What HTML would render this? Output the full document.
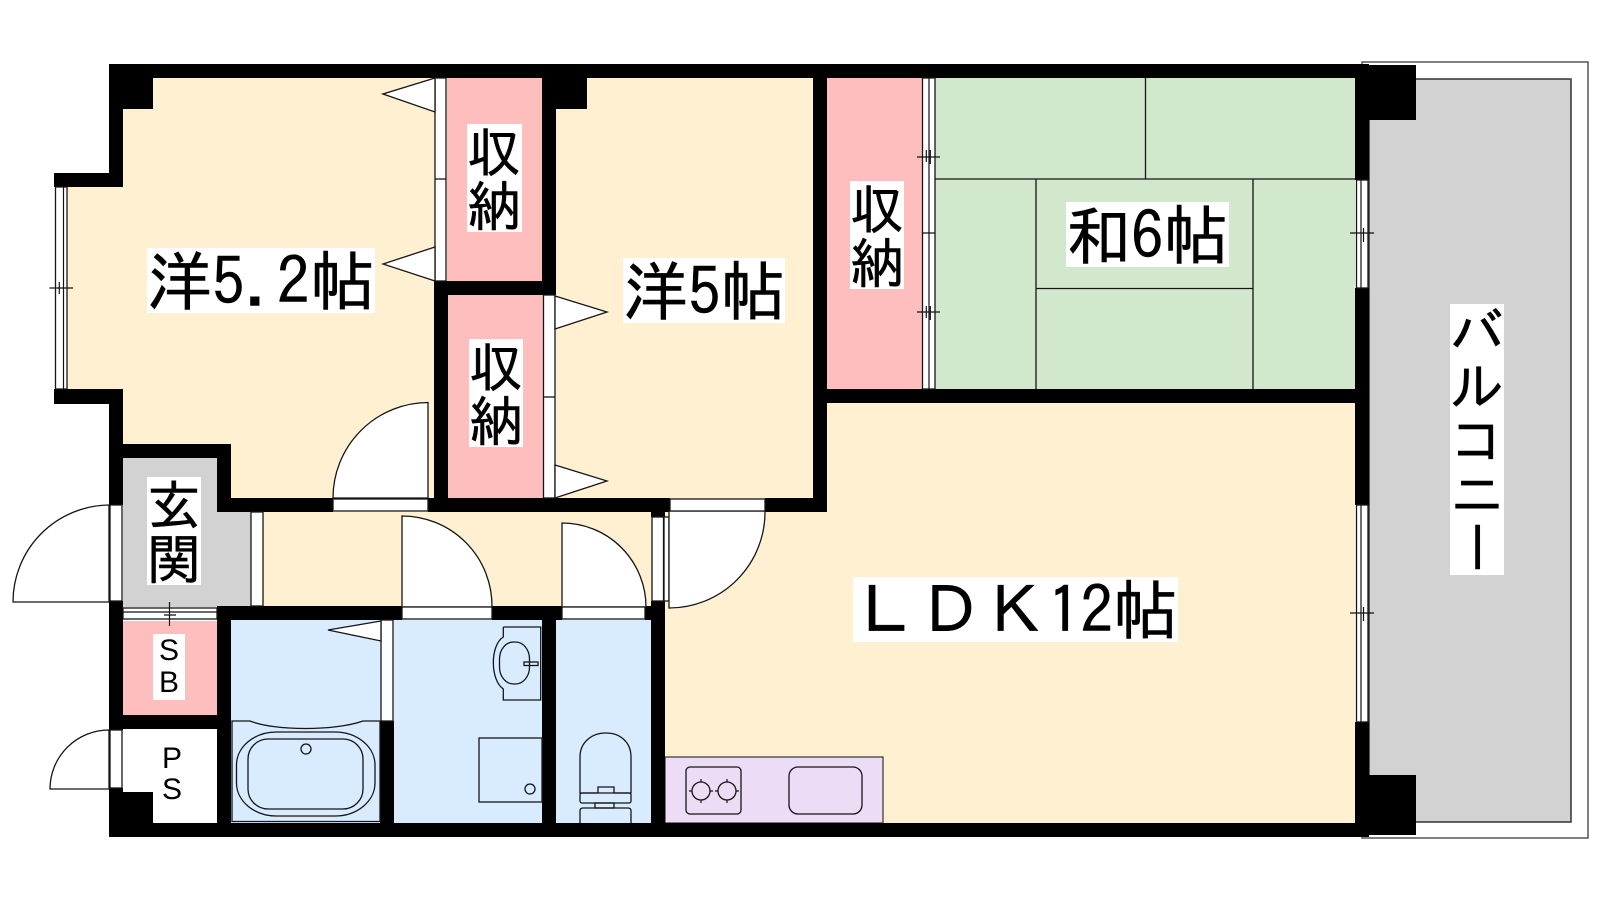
<!DOCTYPE html>
<html lang="ja">
<head>
<meta charset="utf-8">
<title>間取り図</title>
<style>
html,body{margin:0;padding:0;background:#fff;width:1600px;height:900px;overflow:hidden}
svg{display:block}
text{font-family:"IPAGothic","Noto Sans CJK JP",sans-serif;fill:#000;stroke:#000;stroke-width:.5}
.lat{font-family:"Liberation Sans",sans-serif;stroke:none}
.l{fill:none;stroke:#151515;stroke-width:1.3}
.f{fill:#fff;stroke:#151515;stroke-width:1.3}
.w{fill:#000}
.t{stroke:#111;stroke-width:1.2;fill:none}
</style>
</head>
<body>
<svg width="1600" height="900" viewBox="0 0 1600 900" xmlns="http://www.w3.org/2000/svg">
<!-- balcony -->
<rect x="1362" y="62" width="226" height="776" fill="#fff" stroke="#555" stroke-width="1.5"/>
<rect x="1369" y="79" width="202" height="743" fill="#d2d2d2" stroke="#333" stroke-width="1.5"/>

<!-- floors -->
<polygon points="123,78 435,78 435,498 231,498 231,444 123,444 123,404 60,404 60,187 123,187" fill="#fef0d0"/>
<rect x="556" y="78" width="260" height="422" fill="#fef0d0"/>
<rect x="447" y="78" width="95" height="204" fill="#ffbebe"/>
<rect x="448" y="295" width="95" height="204" fill="#ffbebe"/>
<rect x="827" y="78" width="95" height="311" fill="#ffbebe"/>
<rect x="935" y="78" width="420" height="311" fill="#d2e8cc"/>
<rect x="665" y="403" width="690" height="420" fill="#fef0d0"/>
<rect x="263" y="512" width="390" height="95" fill="#fef0d0"/>
<rect x="665" y="512" width="160" height="311" fill="#fef0d0"/>
<polygon points="123,458 217,458 217,512 251,512 251,607 123,607" fill="#d2d2d2"/>
<rect x="123" y="621" width="94" height="94" fill="#ffbebe"/>
<rect x="123" y="729" width="94" height="94" fill="#fff"/>
<rect x="231" y="620" width="150" height="203" fill="#d9ebff"/>
<rect x="394" y="620" width="148" height="203" fill="#d9ebff"/>
<rect x="556" y="620" width="95" height="203" fill="#d9ebff"/>

<!-- tatami lines -->
<path class="l" d="M935 179H1355M1145.500 78V179M1036 179V389M1253 179V389M1036 288.500H1253"/>

<!-- kitchen -->
<rect x="665" y="757" width="218" height="66" fill="#ecdcf5" stroke="#333" stroke-width="1.2"/>
<rect class="l" x="686" y="767" width="55" height="47" rx="4"/>
<circle class="l" cx="701" cy="791" r="9"/>
<circle class="l" cx="727" cy="791" r="9"/>
<path class="t" d="M689 791h3M710 791h3M701 779v3M701 800v3M715 791h3M736 791h3M727 779v3M727 800v3"/>
<rect class="l" x="789" y="767" width="73" height="47" rx="9"/>

<!-- walls -->
<g class="w">
<rect x="109" y="64" width="1260" height="14"/>
<rect x="109" y="64" width="44" height="45"/>
<rect x="109" y="64" width="14" height="123"/>
<rect x="54" y="173" width="69" height="14"/>
<rect x="54" y="389" width="69" height="15"/>
<rect x="109" y="389" width="14" height="69"/>
<rect x="109" y="444" width="122" height="14"/>
<rect x="109" y="444" width="14" height="61"/>
<rect x="217" y="444" width="14" height="68"/>
<rect x="217" y="498" width="116" height="14"/>
<rect x="428" y="498" width="242" height="14"/>
<rect x="765" y="498" width="62" height="14"/>
<rect x="434" y="281" width="122" height="14"/>
<rect x="434" y="281" width="14" height="231"/>
<rect x="542" y="64" width="14" height="231"/>
<rect x="542" y="64" width="45" height="45"/>
<rect x="813" y="64" width="14" height="448"/>
<rect x="813" y="389" width="556" height="14"/>
<rect x="1355" y="64" width="14" height="116"/>
<rect x="1355" y="288" width="14" height="217"/>
<rect x="1355" y="722" width="14" height="115"/>
<rect x="1355" y="65" width="61" height="55"/>
<rect x="1355" y="775" width="61" height="60"/>
<rect x="109" y="823" width="1260" height="14"/>
<rect x="109" y="601" width="14" height="129"/>
<rect x="109" y="788" width="14" height="49"/>
<rect x="109" y="792" width="44" height="45"/>
<rect x="123" y="715" width="94" height="14"/>
<rect x="217" y="606" width="14" height="231"/>
<rect x="217" y="606" width="185" height="14"/>
<rect x="492" y="606" width="70" height="14"/>
<rect x="645" y="606" width="20" height="14"/>
<rect x="380" y="721" width="14" height="116"/>
<rect x="542" y="606" width="14" height="231"/>
<rect x="651" y="601" width="14" height="236"/>
<rect x="651" y="498" width="14" height="19"/>
</g>

<!-- windows -->
<rect class="f" x="55.500" y="187" width="11.500" height="202"/>
<path class="t" d="M63.500 187V389M49.500 288H73M59.300 282V294M63.500 282V296"/>
<rect class="f" x="1356.500" y="180" width="11.500" height="108"/>
<path class="t" d="M1361 180V288M1350 233H1374M1361 228V240M1363.500 228V242"/>
<rect class="f" x="1356.500" y="505" width="11.500" height="217"/>
<path class="t" d="M1361 505V722M1350 613H1374M1361 607V619M1363.500 607V621"/>
<rect class="f" x="922.500" y="78" width="12.500" height="311"/>
<path class="t" d="M929 78V389M917 157H940M926.300 150V162M930.300 150V164M922 233H935M917 312H940M926.300 306V318M930.300 306V320"/>
<rect class="f" x="123" y="608" width="94" height="11"/>
<path class="t" d="M123 612H217M169.500 602V626M164 612H176M164 615H176"/>

<!-- sliding closet doors -->
<rect class="f" x="435" y="78" width="11" height="203"/>
<path class="l" d="M435 179H446"/>
<rect class="f" x="543.500" y="295" width="11.500" height="203"/>
<path class="l" d="M543.500 397H555"/>
<polygon class="f" points="435,78 383,94 435,112"/>
<polygon class="f" points="435,247 383,264 435,281"/>
<polygon class="f" points="555,296 607,312 555,329"/>
<polygon class="f" points="555,465 607,481 555,498"/>

<!-- interior partitions -->
<rect class="f" x="251" y="512" width="12" height="94"/>
<rect class="f" x="652" y="517" width="11.500" height="84"/>
<rect class="f" x="664" y="517" width="5" height="84"/>
<rect class="f" x="381" y="620" width="12" height="101"/>
<polygon class="f" points="381,621 328,630 381,641"/>

<!-- door swings -->
<path class="f" d="M428 498V402.500A95.500 95.500 0 0 0 333 498Z"/>
<rect class="f" x="333" y="499" width="95" height="12"/>
<path class="f" d="M109 602V505A97 97 0 0 0 13 602Z"/>
<rect class="f" x="110" y="505" width="12" height="96"/>
<path class="f" d="M109 789V730A59 59 0 0 0 50 789Z"/>
<rect class="f" x="110" y="730" width="12" height="58"/>
<path class="f" d="M402 607V516A90 90 0 0 1 492 607Z"/>
<rect class="f" x="402" y="607" width="90" height="12"/>
<path class="f" d="M562 607V523A84 84 0 0 1 646 607Z"/>
<rect class="f" x="562" y="607" width="83" height="12"/>
<path class="f" d="M669 511V608A96 96 0 0 0 765 511Z"/>
<rect class="f" x="670" y="499" width="95" height="12"/>

<!-- bath -->
<path class="l" d="M232 721H250C275 731 335 731 363 721H380V821.500H232Z"/>
<rect class="l" x="236.500" y="732" width="138.500" height="84" rx="40" ry="33"/>
<rect class="l" x="248" y="739" width="115" height="70" rx="20" ry="20"/>
<circle class="l" cx="306" cy="749" r="5"/>

<!-- washbasin -->
<path class="l" d="M503.300 627V637C490 645 490 680 503.300 689V700H540.700V627H503.300"/>
<rect class="l" x="499.500" y="642" width="30" height="42" rx="14" ry="17"/>
<rect class="l" x="524" y="662" width="14" height="3.500" fill="#fff"/>

<!-- washing machine pan -->
<rect class="l" x="479" y="738" width="63" height="64"/>
<circle class="l" cx="530" cy="789" r="5"/>

<!-- toilet -->
<path class="l" d="M580 793V757C580 742 592 733 606 733C620 733 631 742 631 757V793H614V787H598V793Z"/>
<rect class="l" x="580" y="793" width="51" height="10" rx="2"/>
<rect class="l" x="595" y="803" width="19" height="5"/>
<path class="l" d="M580 823V811Q580 808 583 808H628Q631 808 631 811V823"/>

<!-- labels -->
<rect x="147" y="248" width="228" height="65" fill="#fff"/>
<text x="147" y="305" font-size="65">洋</text>
<text x="212" y="305" font-size="65">5</text>
<text x="244.500" y="305" font-size="65">.</text>
<text x="277" y="305" font-size="65">2</text>
<text x="310" y="305" font-size="65">帖</text>

<rect x="467" y="124" width="55" height="108" fill="#fff"/>
<text x="467" y="172" font-size="54">収</text>
<text x="467" y="226" font-size="54">納</text>
<rect x="469" y="339" width="54" height="108" fill="#fff"/>
<text x="469" y="387" font-size="54">収</text>
<text x="469" y="441" font-size="54">納</text>
<rect x="850" y="181" width="54" height="108" fill="#fff"/>
<text x="850" y="229" font-size="54">収</text>
<text x="850" y="283" font-size="54">納</text>

<rect x="623" y="258" width="162" height="65" fill="#fff"/>
<text x="623" y="315" font-size="65">洋</text>
<text x="688" y="315" font-size="65">5</text>
<text x="720.500" y="315" font-size="65">帖</text>

<rect x="1066" y="202" width="163" height="65" fill="#fff"/>
<text x="1066" y="259" font-size="65">和</text>
<text x="1131" y="259" font-size="65">6</text>
<text x="1163.500" y="259" font-size="65">帖</text>

<rect x="853" y="577" width="325" height="65" fill="#fff"/>
<text x="853" y="634" font-size="65">ＬＤＫ</text>
<text x="1048" y="634" font-size="65">1</text>
<text x="1080.500" y="634" font-size="65">2</text>
<text x="1113" y="634" font-size="65">帖</text>

<rect x="147" y="477" width="54" height="108" fill="#fff"/>
<text x="147" y="525" font-size="54">玄</text>
<text x="147" y="579" font-size="54">関</text>

<rect x="1450" y="304" width="54" height="271" fill="#fff"/>
<text x="1450" y="352" font-size="54">バ</text>
<text x="1450" y="406" font-size="54">ル</text>
<text x="1450" y="460" font-size="54">コ</text>
<text x="1450" y="514" font-size="54">ニ</text>
<text x="0" y="0" font-size="54" transform="translate(1477 547) rotate(90) translate(-27 20)">ー</text>

<rect x="153" y="634" width="32" height="66" fill="#fff"/>
<text class="lat" x="169" y="660" font-size="30" text-anchor="middle">S</text>
<text class="lat" x="169" y="692" font-size="30" text-anchor="middle">B</text>
<text class="lat" x="172" y="768" font-size="30" text-anchor="middle">P</text>
<text class="lat" x="172" y="799" font-size="30" text-anchor="middle">S</text>
</svg>
</body>
</html>
